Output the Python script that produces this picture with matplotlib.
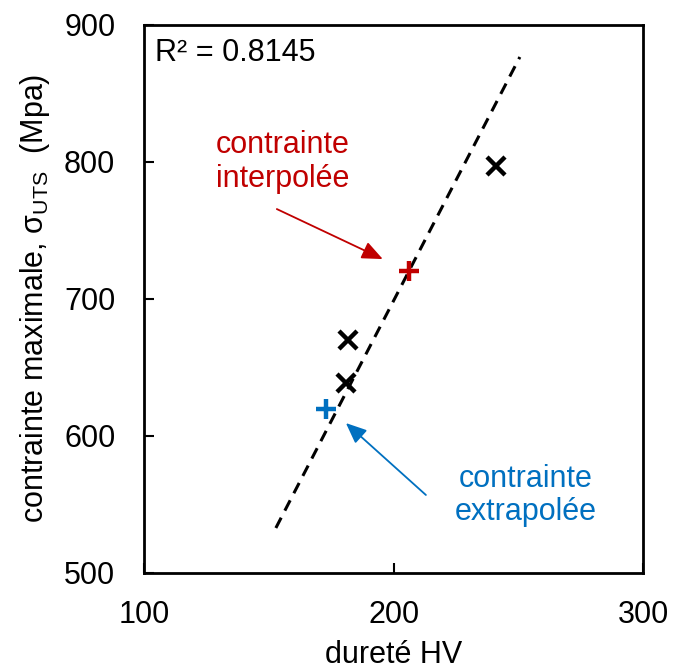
import matplotlib.pyplot as plt

plt.rcParams['font.family'] = ['Liberation Sans', 'DejaVu Sans']
plt.rcParams['mathtext.fontset'] = 'custom'
plt.rcParams['mathtext.rm'] = 'Liberation Sans'
plt.rcParams['mathtext.it'] = 'Liberation Sans:italic'

# measured points (hardness HV, UTS MPa)
hv_meas = [241, 181.5, 181]
uts_meas = [797, 670, 638]

# interpolated / extrapolated points
hv_interp, uts_interp = 206, 720
hv_extrap, uts_extrap = 173, 619

# trend line end points
trend_hv = [152.7, 250.6]
trend_uts = [532.5, 876.3]
r2_text = "R² = 0.8145"

red = "#C00000"
blue = "#0070C0"

fig = plt.figure(figsize=(6.73, 6.70), dpi=100)
ax = fig.add_axes([0.2147, 0.1455, 0.7407, 0.8179])

ax.plot(trend_hv, trend_uts, color='black', lw=2.2, linestyle=(0, (3.8, 2.6)))
ax.plot(hv_meas, uts_meas, linestyle='none', marker='x', ms=13, mew=3.2, color='black')
ax.plot([hv_interp], [uts_interp], linestyle='none', marker='+', ms=14, mew=3.2, color=red)
ax.plot([hv_extrap], [uts_extrap], linestyle='none', marker='+', ms=14, mew=3.2, color=blue)

arrow_style = '-|>,head_length=0.7,head_width=0.3'
ax.annotate("", xy=(195.6, 728.8), xytext=(153.1, 765.3),
            arrowprops=dict(arrowstyle=arrow_style, color=red, lw=1.3,
                            mutation_scale=18, shrinkA=0, shrinkB=0))
ax.annotate("", xy=(180.8, 609.1), xytext=(212.9, 556.6),
            arrowprops=dict(arrowstyle=arrow_style, color=blue, lw=1.3,
                            mutation_scale=18, shrinkA=0, shrinkB=0))

ax.text(155.6, 799.6, "contrainte\ninterpolée", color=red, fontsize=22,
        ha='center', va='center', linespacing=1.15)
ax.text(253, 556.2, "contrainte\nextrapolée", color=blue, fontsize=22,
        ha='center', va='center', linespacing=1.15)
ax.text(0.021, 0.9334, r2_text, transform=ax.transAxes, fontsize=22,
        ha='left', va='baseline')

ax.set_xlim(100, 300)
ax.set_ylim(500, 900)
ax.set_xticks([100, 200, 300])
ax.set_yticks([500, 600, 700, 800, 900])
ax.tick_params(direction='in', length=7, width=1.5, labelsize=22)
ax.tick_params(axis='y', pad=21)
ax.tick_params(axis='x', pad=20)
for s in ax.spines.values():
    s.set_linewidth(2)

ax.set_xlabel("dureté HV", fontsize=22, labelpad=7)
ax.set_ylabel(r"contrainte maximale, σ$_{\mathrm{UTS}}$  (Mpa)", fontsize=22, labelpad=9)

fig.savefig("out.png", dpi=100)
